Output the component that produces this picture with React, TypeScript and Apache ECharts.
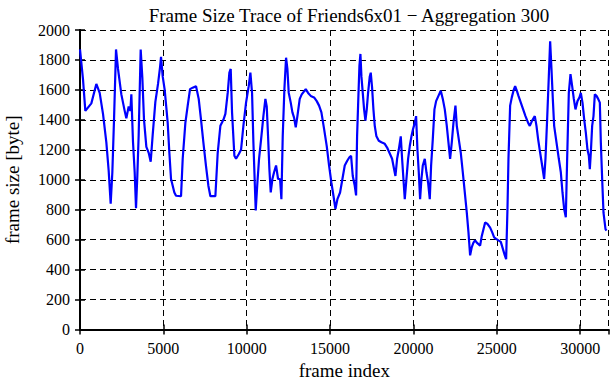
import React, { useEffect, useRef } from "react";
import * as echarts from "echarts";

const frames = [
  0, 180, 320, 680, 980, 1180, 1380, 1580, 1720, 1840, 1940, 2040, 2160, 2280, 2480, 2680, 2780, 2920, 3020, 3080,
  3180, 3280, 3360, 3440, 3520, 3640, 3740, 3840, 3980, 4120, 4240, 4360, 4520, 4680, 4800, 4860, 4960, 5080, 5180, 5260,
  5360, 5460, 5660, 5760, 6060, 6160, 6320, 6460, 6600, 6760, 6960, 7120, 7260, 7400, 7560, 7700, 7820, 8120, 8260, 8420,
  8600, 8720, 8860, 8960, 9040, 9120, 9260, 9360, 9520, 9660, 9800, 9960, 10120, 10220, 10320, 10400, 10540, 10640, 10740, 10880,
  11000, 11120, 11200, 11280, 11360, 11440, 11540, 11640, 11760, 11880, 12000, 12080, 12160, 12260, 12360, 12440, 12520, 12640, 12740, 12840,
  12940, 13040, 13180, 13300, 13440, 13540, 13680, 13840, 14040, 14200, 14340, 14480, 14640, 14800, 14940, 15080, 15200, 15320, 15440, 15600,
  15740, 15880, 16020, 16160, 16260, 16360, 16480, 16560, 16620, 16680, 16760, 16820, 16880, 16960, 17040, 17120, 17200, 17280, 17380, 17440,
  17520, 17600, 17680, 17780, 17920, 18080, 18280, 18420, 18560, 18720, 18840, 18920, 19020, 19120, 19240, 19320, 19400, 19480, 19580, 19680,
  19780, 19880, 19980, 20080, 20160, 20240, 20320, 20400, 20480, 20560, 20680, 20780, 20880, 20980, 21060, 21160, 21260, 21360, 21500, 21640,
  21760, 21880, 22000, 22100, 22200, 22300, 22400, 22520, 22600, 22720, 22840, 22960, 23080, 23200, 23300, 23400, 23500, 23600, 23700, 23800,
  23900, 24000, 24100, 24200, 24300, 24440, 24600, 24720, 24840, 24960, 25100, 25240, 25360, 25480, 25560, 25640, 25700, 25800, 25900, 26000,
  26100, 26200, 26300, 26440, 26580, 26720, 26880, 26980, 27120, 27280, 27380, 27480, 27600, 27720, 27840, 27920, 28020, 28120, 28200, 28280,
  28360, 28440, 28580, 28720, 28840, 28940, 29040, 29140, 29220, 29320, 29420, 29520, 29620, 29720, 29840, 29960, 30040, 30140, 30240, 30340,
  30440, 30520, 30580, 30640, 30720, 30800, 30880, 30980, 31080, 31180, 31240, 31320, 31400, 31520, 31580,
];

const frameSizes = [
  1870, 1670, 1460, 1510, 1640, 1580, 1440, 1250, 1060, 840, 1050, 1400, 1870, 1740, 1570, 1460, 1410, 1490, 1460, 1570,
  1250, 1050, 810, 1030, 1300, 1870, 1680, 1400, 1220, 1180, 1120, 1300, 1520, 1640, 1750, 1820, 1690, 1600, 1480, 1380,
  1180, 1005, 915, 893, 890, 1140, 1380, 1495, 1605, 1615, 1625, 1540, 1400, 1250, 1090, 960, 890, 890, 1180, 1360,
  1400, 1440, 1580, 1715, 1740, 1450, 1160, 1140, 1170, 1200, 1360, 1515, 1625, 1715, 1580, 1250, 795, 980, 1140, 1290,
  1425, 1540, 1490, 1290, 1070, 915, 1005, 1050, 1095, 1005, 1005, 870, 1290, 1605, 1815, 1740, 1580, 1515, 1450, 1415,
  1350, 1425, 1540, 1570, 1590, 1605, 1580, 1560, 1550, 1525, 1495, 1450, 1340, 1225, 1095, 980, 895, 805, 870, 915,
  1005, 1095, 1125, 1150, 1160, 1025, 960, 895, 1290, 1495, 1760, 1840, 1690, 1580, 1470, 1395, 1470, 1580, 1690, 1715,
  1615, 1470, 1360, 1290, 1260, 1250, 1240, 1215, 1180, 1140, 1070, 1025, 1140, 1200, 1290, 1140, 1005, 870, 1005, 1140,
  1225, 1290, 1340, 1380, 1425, 1200, 1050, 870, 1005, 1095, 1140, 1050, 980, 870, 1095, 1270, 1470, 1525, 1560, 1595,
  1540, 1470, 1360, 1250, 1140, 1250, 1380, 1495, 1360, 1270, 1180, 1050, 915, 780, 650, 495, 550, 580, 595, 580,
  570, 560, 625, 670, 715, 705, 680, 650, 615, 605, 595, 585, 540, 495, 470, 805, 1140, 1495, 1550, 1595,
  1625, 1595, 1560, 1515, 1470, 1425, 1380, 1360, 1395, 1425, 1360, 1270, 1180, 1095, 1005, 1140, 1405, 1690, 1925, 1740,
  1540, 1360, 1250, 1140, 1050, 915, 805, 750, 1140, 1580, 1705, 1625, 1540, 1470, 1525, 1550, 1580, 1515, 1405, 1315,
  1200, 1160, 1070, 1180, 1360, 1425, 1570, 1560, 1540, 1515, 1250, 1005, 780, 670, 660,
];

const titleText = "Frame Size Trace of Friends6x01 \u2212 Aggregation 300";
const xName = "frame index";
const yName = "frame size [byte]";

export default function App() {
  const ref = useRef<HTMLDivElement>(null);
  useEffect(() => {
    if (!ref.current) return;
    const chart = echarts.init(ref.current, null, { renderer: "svg" });
    const font = "Liberation Serif";
    const black = "#000";
    const data = frames.map((f, i) => [f, frameSizes[i]]);
    const plain = (v: number) => String(v);
    const baseX = {
      type: "value" as const,
      min: 0,
      max: 31700,
      interval: 5000,
    };
    const baseY = {
      type: "value" as const,
      min: 0,
      max: 2000,
      interval: 200,
    };
    chart.setOption({
      animation: false,
      backgroundColor: "#fff",
      title: {
        text: titleText,
        left: 344,
        textAlign: "center",
        top: 1,
        textStyle: { fontFamily: font, fontSize: 19, fontWeight: "normal", color: black },
      },
      grid: { left: 80, right: 2.5, top: 30, bottom: 50.5, outerBoundsMode: "none", containLabel: false },
      xAxis: [
        {
          ...baseX,
          position: "bottom",
          name: xName,
          nameLocation: "middle",
          nameGap: 29,
          nameTextStyle: { fontFamily: font, fontSize: 19, color: black },
          axisLine: { lineStyle: { color: black, width: 2 } },
          axisTick: { inside: true, length: 5, lineStyle: { color: black, width: 1.5 } },
          axisLabel: { fontFamily: font, fontSize: 16, color: black, margin: 11, showMaxLabel: false, formatter: plain },
          splitLine: { show: true, lineStyle: { color: black, type: [6, 4], width: 1 } },
        },
        {
          ...baseX,
          position: "top",
          axisLine: { lineStyle: { color: black, width: 2 } },
          axisTick: { inside: true, length: 5, lineStyle: { color: black, width: 1.5 } },
          axisLabel: { show: false },
          splitLine: { show: false },
        },
      ],
      yAxis: [
        {
          ...baseY,
          position: "left",
          name: yName,
          nameLocation: "middle",
          nameGap: 58,
          nameTextStyle: { fontFamily: font, fontSize: 19, color: black },
          axisLine: { show: true, lineStyle: { color: black, width: 2 } },
          axisTick: { show: true, inside: true, length: 5, lineStyle: { color: black, width: 1.5 } },
          axisLabel: { fontFamily: font, fontSize: 16, color: black, margin: 10, formatter: plain },
          splitLine: { show: true, lineStyle: { color: black, type: [6, 4], width: 1 } },
        },
        {
          ...baseY,
          position: "right",
          axisLine: { show: true, lineStyle: { color: black, width: 2 } },
          axisTick: { show: true, inside: true, length: 5, lineStyle: { color: black, width: 1.5 } },
          axisLabel: { show: false },
          splitLine: { show: false },
        },
      ],
      series: [
        {
          type: "line",
          data,
          xAxisIndex: 0,
          yAxisIndex: 0,
          showSymbol: false,
          lineStyle: { color: "#0000ff", width: 2.2 },
        },
      ],
    });
    return () => chart.dispose();
  }, []);
  return (
    <div
      ref={ref}
      style={{ position: "fixed", left: 0, top: 0, width: 611, height: 380, background: "#fff" }}
    />
  );
}
